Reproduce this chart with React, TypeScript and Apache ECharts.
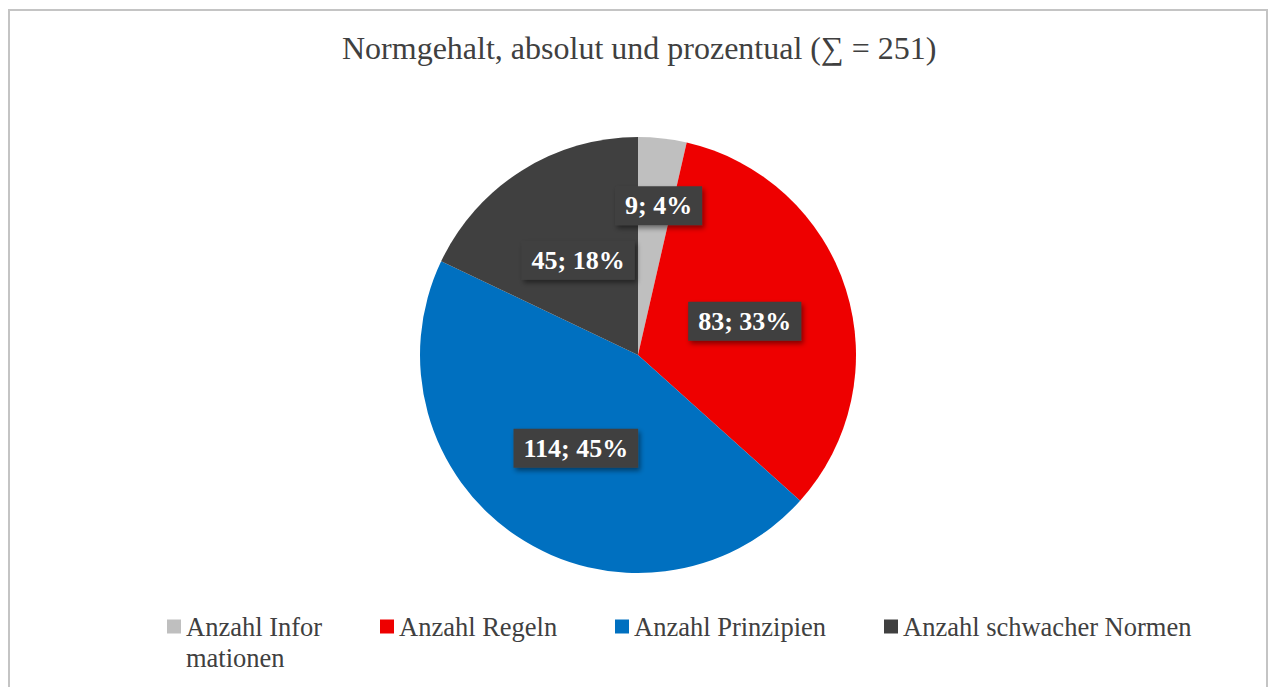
import React, { useEffect, useRef } from "react";
import * as echarts from "echarts";

const titleText = "Normgehalt, absolut und prozentual (∑ = 251)";
const categories = [
  "Anzahl Informationen",
  "Anzahl Regeln",
  "Anzahl Prinzipien",
  "Anzahl schwacher Normen",
];
const legendLabels = [
  "Anzahl Infor",
  "Anzahl Regeln",
  "Anzahl Prinzipien",
  "Anzahl schwacher Normen",
];
const legendWrap = "mationen";
const values = [9, 83, 114, 45];
const colors = ["#bfbfbf", "#ee0000", "#0070c0", "#404040"];
const legendLeft = [167, 380, 615, 884];

const SERIF = "'Liberation Serif', 'Times New Roman', serif";

export default function App() {
  const ref = useRef<HTMLDivElement>(null);
  useEffect(() => {
    if (!ref.current) return;
    const chart = echarts.init(ref.current, null, { renderer: "svg" });
    const labelBase = {
      show: true,
      position: "inside",
      formatter: "{c}; {d}%",
      color: "#ffffff",
      fontFamily: SERIF,
      fontWeight: "bold",
      fontSize: 26,
      lineHeight: 26,
      backgroundColor: "#404040",
      padding: [7, 10, 6, 10],
      shadowColor: "rgba(0,0,0,0.45)",
      shadowBlur: 5,
      shadowOffsetX: 2,
      shadowOffsetY: 3,
    };
    chart.setOption({
      animation: false,
      backgroundColor: "#ffffff",
      title: {
        text: titleText,
        left: 342,
        top: 32,
        padding: 0,
        textStyle: {
          fontFamily: SERIF,
          fontWeight: "normal",
          fontSize: 32,
          color: "#404040",
        },
      },
      legend: categories.map((name, i) => ({
        data: [name],
        left: legendLeft[i],
        top: 613,
        padding: 0,
        orient: "horizontal",
        icon: "rect",
        itemWidth: 14,
        itemHeight: 14,
        selectedMode: false,
        formatter: () => legendLabels[i],
        textStyle: {
          fontFamily: SERIF,
          fontSize: 26.5,
          lineHeight: 26,
          color: "#404040",
        },
      })),
      graphic: [
        {
          type: "rect",
          shape: { x: 9, y: 10, width: 1258, height: 720 },
          style: { fill: "none", stroke: "#c4c4c4", lineWidth: 2 },
          silent: true,
        },
        {
          type: "text",
          left: 186,
          top: 644,
          style: {
            text: legendWrap,
            font: `26.5px ${SERIF}`,
            fill: "#404040",
          },
          silent: true,
        },
      ],
      series: [
        {
          type: "pie",
          center: [638, 355],
          radius: [0, 218],
          startAngle: 90,
          clockwise: true,
          percentPrecision: 0,
          avoidLabelOverlap: false,
          label: labelBase,
          labelLine: { show: false },
          emphasis: { disabled: true },
          itemStyle: { borderWidth: 0 },
          data: categories.map((name, i) => ({
            name,
            value: values[i],
            itemStyle: { color: colors[i] },
            label: i === 0 ? { ...labelBase, offset: [8, -38] } : labelBase,
          })),
        },
      ],
    });
    return () => chart.dispose();
  }, []);
  return (
    <div
      ref={ref}
      style={{ position: "fixed", left: 0, top: 0, width: 1268, height: 687 }}
    />
  );
}
